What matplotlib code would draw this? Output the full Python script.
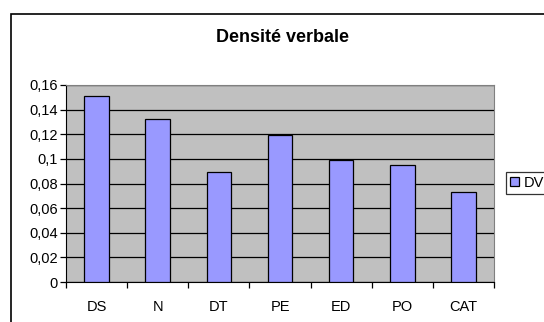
import matplotlib.pyplot as plt
from matplotlib.patches import Rectangle
from matplotlib.ticker import FuncFormatter, MultipleLocator

categories = ["DS", "N", "DT", "PE", "ED", "PO", "CAT"]
dv_values = [0.151, 0.132, 0.089, 0.119, 0.099, 0.095, 0.073]
series_name = "DV"

plt.rcParams['font.family'] = ['Liberation Sans', 'DejaVu Sans']

fig = plt.figure(figsize=(5.44, 3.22), dpi=100)
fig.patch.set_facecolor('white')

# outer chart frame, running off the right and bottom edges
fig.patches.append(Rectangle((11 / 544, -0.1), 1.2, 1 - 14 / 322 + 0.1,
                             transform=fig.transFigure, fill=False,
                             edgecolor='black', linewidth=1.2, clip_on=False))

ax = fig.add_axes([66 / 544, 1 - 282 / 322, (494 - 66) / 544, (282 - 85) / 322])
ax.set_facecolor('#c0c0c0')

x = range(len(categories))
bars = ax.bar(x, dv_values, width=0.4, color='#9999ff', edgecolor='black',
              linewidth=0.9, label=series_name, zorder=3)

ax.set_xlim(-0.5, len(categories) - 0.5)
ax.set_ylim(0, 0.16)
ax.yaxis.set_major_locator(MultipleLocator(0.02))
ax.yaxis.set_major_formatter(FuncFormatter(
    lambda v, p: '0' if abs(v) < 1e-9 else ('%g' % round(v, 2)).replace('.', ',')))
ax.grid(axis='y', color='black', linewidth=0.9, zorder=1)

ax.set_xticks(list(x))
ax.set_xticklabels(categories, fontsize=10.5)
ax.tick_params(axis='x', length=0, pad=13)
ax.set_xticks([i - 0.5 for i in range(len(categories) + 1)], minor=True)
ax.tick_params(axis='x', which='minor', length=4, width=0.9, direction='out')
ax.tick_params(axis='y', length=4, width=0.9, labelsize=10.5, pad=2)

for side in ['top', 'right']:
    ax.spines[side].set_color('#808080')
    ax.spines[side].set_linewidth(0.8)
ax.spines['left'].set_color('black')
ax.spines['bottom'].set_color('black')

fig.text(283 / 544, 1 - 37 / 322, "Densité verbale", fontsize=13,
         fontweight='bold', ha='center', va='center')

leg = fig.legend(loc='center left', bbox_to_anchor=(506 / 544, 1 - 183 / 322),
                 fontsize=10.5, frameon=True, fancybox=False, edgecolor='black',
                 handlelength=0.6, handleheight=0.6, handletextpad=0.3,
                 borderpad=0.3, borderaxespad=0)
leg.get_frame().set_linewidth(0.9)

fig.savefig('out.png', dpi=100)
